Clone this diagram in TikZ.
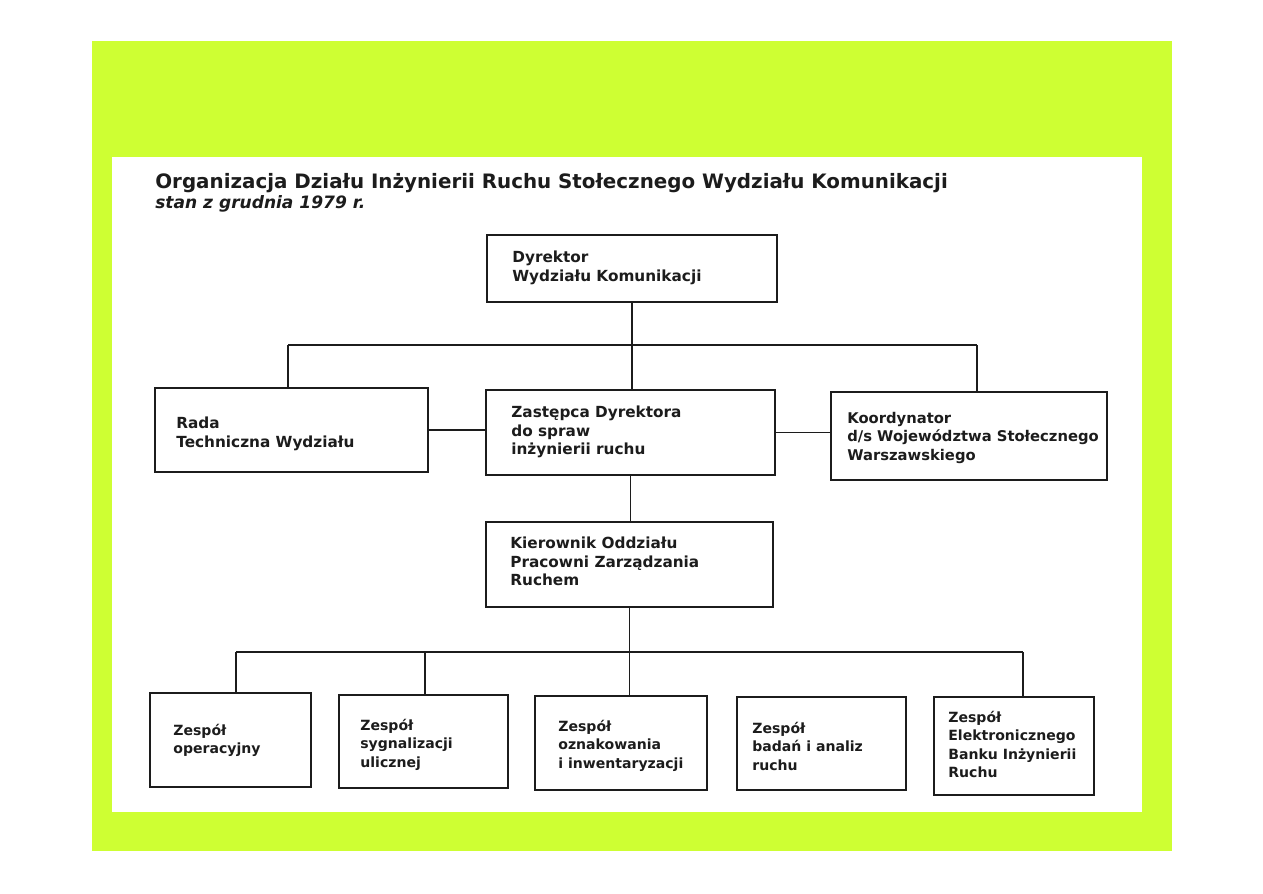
\documentclass[tikz,border=0pt]{standalone}
\usepackage{fontspec}
\setmainfont{DejaVu Sans}[ItalicFont={DejaVu Sans Oblique},BoldFont={DejaVu Sans Bold},BoldItalicFont={DejaVu Sans Bold Oblique}]
\usetikzlibrary{positioning}
\definecolor{LimeGreen}{RGB}{206,255,51}
\definecolor{InkGray}{RGB}{28,28,28}

\begin{document}
\begin{tikzpicture}[x=0.02cm,y=-0.02cm,
	box/.style 2 args={draw=InkGray,line width=1pt,inner sep=0pt,minimum width=#1,minimum height=#2},
	lbl/.style={anchor=north west,inner sep=0pt,align=left,text=InkGray,font=\bfseries\fontsize{8.7}{10.6}\selectfont},
	lbls/.style={lbl,font=\bfseries\fontsize{8}{10.4}\selectfont},
	link/.style={draw=InkGray,line width=0.9pt}]
			\useasboundingbox (0,0) rectangle (1263,893);
			\fill[LimeGreen] (92,41) rectangle (1172,851);
			\fill[white] (112,157) rectangle (1142,812);
			% title
			\node[anchor=base west,inner sep=0pt,text=InkGray,font=\bfseries\fontsize{11.3}{13}\selectfont] (title) at (155,188) {Organizacja Działu Inżynierii Ruchu Stołecznego Wydziału Komunikacji};
			\node[anchor=base west,inner sep=0pt,text=InkGray,font=\bfseries\itshape\fontsize{9.7}{12}\selectfont] (date) at (155,208) {stan z grudnia 1979 r.};
			% top levels
			\node[box={5.8cm}{1.34cm}] (dyr) at (632,268.5) {};
			\node[lbl] (dyrT) at (512,250.5) {Dyrektor\\Wydziału Komunikacji};
			\node[box={5.46cm}{1.68cm}] (rada) at (291.5,430) {};
			\node[lbl] (radaT) at (176,416.5) {Rada\\Techniczna Wydziału};
			\node[box={5.78cm}{1.7cm}] (zast) at (630.5,432.5) {};
			\node[lbl] (zastT) at (511,405.5) {Zastępca Dyrektora\\do spraw\\inżynierii ruchu};
			\node[box={5.52cm}{1.76cm}] (koord) at (969,436) {};
			\node[lbl,font=\bfseries\fontsize{8.4}{10.6}\selectfont] (koordT) at (847,411.5) {Koordynator\\d/s Województwa Stołecznego\\Warszawskiego};
			\node[box={5.74cm}{1.7cm}] (kier) at (629.5,564.5) {};
			\node[lbl] (kierT) at (510,536.5) {Kierownik Oddziału\\Pracowni Zarządzania\\Ruchem};
			% teams
			\node[box={3.22cm}{1.88cm}] (zespA) at (230.5,740) {};
			\node[lbls] (zespAT) at (173,724) {Zespół\\operacyjny};
			\node[box={3.38cm}{1.86cm}] (zespB) at (423.5,741.5) {};
			\node[lbls] (zespBT) at (360,719) {Zespół\\sygnalizacji\\ulicznej};
			\node[box={3.44cm}{1.88cm}] (zespC) at (621,743) {};
			\node[lbls] (zespCT) at (558,720) {Zespół\\oznakowania\\i inwentaryzacji};
			\node[box={3.38cm}{1.86cm}] (zespD) at (821.5,743.5) {};
			\node[lbls] (zespDT) at (752,722) {Zespół\\badań i analiz\\ruchu};
			\node[box={3.2cm}{1.96cm}] (zespE) at (1014,746) {};
			\node[lbls] (zespET) at (948,711) {Zespół\\Elektronicznego\\Banku Inżynierii\\Ruchu};
			% connectors
			\coordinate (busA) at (288,345);
			\coordinate (busB) at (977,345);
			\draw[link] (busA) -- (busB);
			\draw[link] (dyr.south) -- (dyr.south |- zast.north);
			\draw[link] (busA) -- (busA |- rada.north);
			\draw[link] (busB) -- (busB |- koord.north);
			\draw[link] (rada.east) -- (rada.east -| zast.west);
			\draw[link] (zast.east) -- (zast.east -| koord.west);
			\draw[link] (zast.south) -- (zast.south |- kier.north);
			\coordinate (busC) at (236,652);
			\coordinate (busD) at (1023,652);
			\coordinate (dropB) at (425,652);
			\draw[link] (busC) -- (busD);
			\draw[link] (kier.south) -- (kier.south |- zespC.north);
			\draw[link] (busC) -- (busC |- zespA.north);
			\draw[link] (dropB) -- (dropB |- zespB.north);
			\draw[link] (busD) -- (busD |- zespE.north);
		\end{tikzpicture}
\end{document}
